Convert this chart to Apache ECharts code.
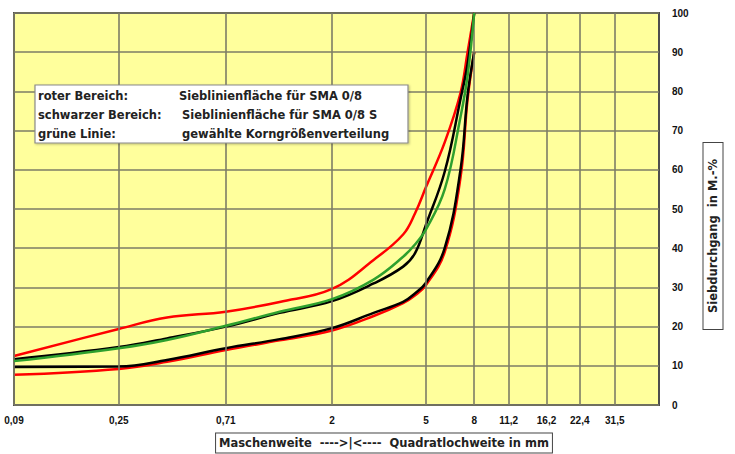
<!DOCTYPE html>
<html>
<head>
<meta charset="utf-8">
<script src="https://cdn.jsdelivr.net/npm/echarts@6/dist/echarts.min.js"></script>
<style>
html,body{margin:0;padding:0;background:#fff;}
#chart{width:735px;height:454px;}
</style>
</head>
<body>
<div id="chart"></div>
<script>
// Sieve sizes (mm) where curves were read
var sieveSizes = [0.09, 0.25, 0.4, 0.71, 1.2, 2, 3, 4, 4.5, 5, 6, 7, 7.5, 8];
// Passing percentages (M.-%)
var redUpper   = [12.5, 19.4, 22.3, 23.8, 26.3, 29.6, 37, 43.5, 49, 55.6, 67, 79.6, 90, 100];
var redLower   = [7.7, 9.2, 11, 14, 16.5, 19, 22.7, 26, 28, 30.6, 39, 58, 78, 90];
var blackUpper = [11.7, 14.8, 17, 20, 23.5, 26.5, 31, 35.3, 38.8, 46, 59.5, 78, 87, 100];
var blackLower = [9.7, 9.8, 11.5, 14.5, 16.8, 19.6, 23.5, 26.3, 28.5, 31.2, 40, 60, 79, 90];
var greenLine  = [11.2, 14.5, 16.6, 20.2, 23.8, 27, 32, 37.8, 41, 44.8, 55, 73.5, 84, 100];
// Axis tick labels
var xTicks = [0.09, 0.25, 0.71, 2, 5, 8, 11.2, 16.2, 22.4, 31.5];
var legendRows = [
  ['roter Bereich:', 'Sieblinienfläche für SMA 0/8'],
  ['schwarzer Bereich:', 'Sieblinienfläche für SMA 0/8 S'],
  ['grüne Linie:', 'gewählte Korngrößenverteilung']
];
var yAxisTitle = 'Siebdurchgang  in M.-%';
var xAxisTitle = 'Maschenweite  ---->|<----  Quadratlochweite in mm';

function pairs(vals){ return sieveSizes.map(function(x,i){ return [x, vals[i]]; }); }
function fmt(v){ return String(+(+v).toPrecision(4)).replace('.', ','); }

var FONT = 'Liberation Sans, Arial, sans-serif';
var TFONT = 'DejaVu Sans, sans-serif';
var gridColor = '#7d7d66';

function lineSeries(vals, color, z){
  return {
    type: 'line', data: pairs(vals), smooth: 0.4,
    symbol: 'none', z: z, silent: true,
    lineStyle: { color: color, width: 2.5 }
  };
}

var legendGraphics = [{
  type: 'rect', shape: { x: 35, y: 85, width: 373, height: 58 },
  style: { fill: '#fff', stroke: '#8a8a8a', lineWidth: 1.2, shadowColor: 'rgba(0,0,0,0.25)', shadowBlur: 2, shadowOffsetX: 1, shadowOffsetY: 1 },
  z: 100
}];
legendRows.forEach(function(r, i){
  var y = 96 + i * 19;
  legendGraphics.push({ type: 'text', x: 38, y: y, z: 101,
    style: { text: r[0], font: 'bold 11.5px ' + TFONT, fill: '#222', verticalAlign: 'middle' } });
  legendGraphics.push({ type: 'text', x: i === 0 ? 179 : 182, y: y, z: 101,
    style: { text: r[1], font: 'bold 11.5px ' + TFONT, fill: '#222', verticalAlign: 'middle' } });
});
legendGraphics.push({
  type: 'text', x: 713, y: 236, rotation: Math.PI / 2, z: 101,
  style: { text: yAxisTitle, font: 'bold 11.5px ' + TFONT, fill: '#222', align: 'center', verticalAlign: 'middle',
    backgroundColor: '#fff', borderColor: '#444', borderWidth: 1, padding: [4, 16, 3, 16] }
});
legendGraphics.push({
  type: 'text', x: 384, y: 443, z: 101,
  style: { text: xAxisTitle, font: 'bold 11.5px ' + TFONT, fill: '#222', align: 'center', verticalAlign: 'middle',
    backgroundColor: '#fff', borderColor: '#444', borderWidth: 1, padding: [4, 3, 3, 3] }
});

var chart = echarts.init(document.getElementById('chart'), null, { renderer: 'svg' });
chart.setOption({
  animation: false,
  backgroundColor: '#fff',
  grid: { left: 14, right: 76, top: 13, bottom: 49, show: true, backgroundColor: '#FFFF9C', borderColor: '#4e4e4e', borderWidth: 2, z: 0 },
  xAxis: {
    type: 'log', logBase: 10, min: 0.09, max: 48.5,
    axisLine: { show: false }, axisTick: { show: false }, axisLabel: { show: false }, splitLine: { show: false }
  },
  yAxis: {
    type: 'value', position: 'right', min: 0, max: 100, interval: 10,
    axisLine: { show: false }, axisTick: { show: false },
    axisLabel: { margin: 13, fontFamily: FONT, fontWeight: 'bold', fontSize: 10, color: '#111', align: 'left' },
    splitLine: { show: true, lineStyle: { color: gridColor, width: 1.6 } }
  },
  graphic: legendGraphics,
  series: [
    {
      type: 'line', data: [], z: 1, silent: true,
      markLine: {
        silent: true, symbol: ['none', 'none'], animation: false,
        lineStyle: { color: gridColor, width: 1.6, type: 'solid' },
        label: { show: true, position: 'start', distance: 10, formatter: function(p){ return fmt(p.value); },
          fontFamily: FONT, fontWeight: 'bold', fontSize: 10, color: '#111' },
        emphasis: { disabled: true },
        data: xTicks.map(function(v){ return { xAxis: v }; })
      }
    },
    lineSeries(redUpper, '#ff0000', 3),
    lineSeries(redLower, '#ff0000', 3),
    lineSeries(blackUpper, '#000000', 4),
    lineSeries(blackLower, '#000000', 4),
    lineSeries(greenLine, '#2ea02e', 5)
  ]
});
</script>
</body>
</html>
